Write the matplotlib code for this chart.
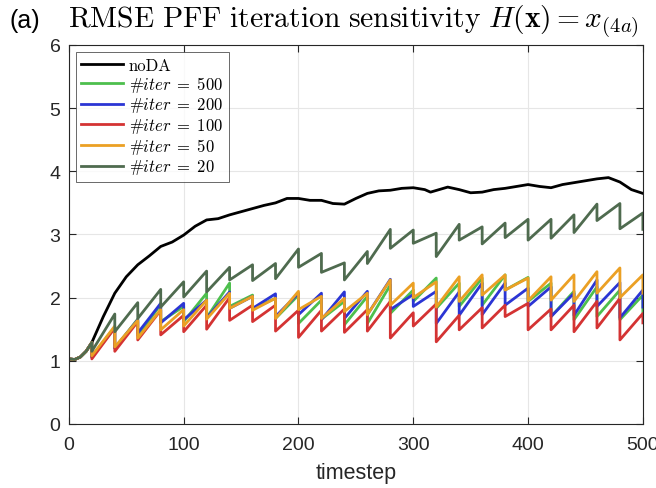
import numpy as np
import matplotlib
matplotlib.use("Agg")
import matplotlib.pyplot as plt

plt.rcParams['mathtext.fontset'] = 'cm'
plt.rcParams['font.family'] = ['Liberation Sans', 'DejaVu Sans']

# free run (noDA)
t_noda = [0, 5, 10, 15, 20, 30, 40, 50, 60, 70, 80, 90, 100, 110, 120, 130, 140, 150,
          160, 170, 180, 190, 200, 210, 220, 230, 240, 250, 260, 270, 280, 290, 300,
          310, 315, 330, 340, 350, 360, 370, 380, 390, 400, 410, 420, 430, 440, 450,
          460, 470, 480, 490, 500]
rmse_noda = [1.03, 1.02, 1.06, 1.15, 1.29, 1.70, 2.07, 2.33, 2.52, 2.66, 2.81, 2.88, 2.99,
             3.13, 3.23, 3.25, 3.31, 3.36, 3.41, 3.46, 3.50, 3.57, 3.57, 3.54, 3.54, 3.49,
             3.48, 3.57, 3.65, 3.69, 3.70, 3.73, 3.74, 3.71, 3.67, 3.75, 3.71, 3.66, 3.67,
             3.71, 3.73, 3.76, 3.79, 3.76, 3.74, 3.79, 3.82, 3.85, 3.88, 3.90, 3.83, 3.71,
             3.65]

# shared spin-up before the first analysis
t_spin = [0, 5, 10, 15]
rmse_spin = [1.03, 1.02, 1.06, 1.15]

# analysis times, value just before (fc) and just after (an) each analysis
t_an = [20, 40, 60, 80, 100, 120, 140, 160, 180, 200, 220, 240, 260, 280, 300,
        320, 340, 360, 380, 400, 420, 440, 460, 480, 500]

fc_500 = [1.29, 1.53, 1.66, 1.89, 1.86, 2.07, 2.23, 2.04, 1.99, 2.04, 1.96, 1.94, 2.02,
          2.20, 2.12, 2.31, 2.23, 2.31, 2.36, 2.32, 2.23, 2.10, 2.17, 2.12, 2.04]
an_500 = [1.06, 1.20, 1.40, 1.62, 1.62, 1.68, 1.86, 1.82, 1.67, 1.59, 1.66, 1.57, 1.59,
          1.75, 1.94, 1.83, 1.86, 1.88, 2.12, 1.94, 1.70, 1.65, 1.70, 1.65, 1.78]

fc_200 = [1.29, 1.53, 1.65, 1.91, 1.91, 1.96, 2.09, 2.02, 2.06, 2.07, 2.07, 2.09, 2.10,
          2.29, 2.05, 2.10, 2.09, 2.23, 2.23, 2.15, 2.17, 2.07, 2.28, 2.24, 2.12]
an_200 = [1.06, 1.20, 1.44, 1.60, 1.65, 1.68, 1.83, 1.83, 1.70, 1.73, 1.65, 1.67, 1.73,
          1.81, 1.86, 1.59, 1.72, 1.73, 1.88, 1.86, 1.70, 1.72, 1.86, 1.68, 1.85]

fc_100 = [1.29, 1.52, 1.62, 1.80, 1.72, 1.88, 2.00, 1.88, 1.88, 1.80, 1.80, 1.82, 1.81,
          1.94, 1.76, 1.90, 1.72, 1.84, 1.88, 1.91, 1.82, 1.88, 1.94, 1.99, 1.75]
an_100 = [1.03, 1.15, 1.33, 1.41, 1.46, 1.50, 1.64, 1.62, 1.47, 1.37, 1.47, 1.45, 1.47,
          1.36, 1.55, 1.30, 1.49, 1.52, 1.70, 1.49, 1.49, 1.46, 1.52, 1.33, 1.60]

fc_50 = [1.29, 1.55, 1.64, 1.81, 1.81, 1.96, 2.07, 2.02, 1.99, 2.10, 2.02, 1.99, 2.07,
         2.28, 2.23, 2.25, 2.33, 2.36, 2.36, 2.31, 2.33, 2.36, 2.41, 2.47, 2.36]
an_50 = [1.08, 1.22, 1.36, 1.49, 1.55, 1.66, 1.83, 1.80, 1.67, 1.81, 1.67, 1.78, 1.73,
         1.88, 2.00, 1.85, 1.94, 2.04, 2.12, 1.95, 1.96, 1.94, 2.07, 2.00, 2.07]

fc_20 = [1.29, 1.74, 1.92, 2.13, 2.25, 2.42, 2.48, 2.52, 2.54, 2.77, 2.70, 2.55, 2.73,
         3.08, 3.07, 3.02, 3.16, 3.12, 3.18, 3.24, 3.24, 3.31, 3.48, 3.49, 3.34]
an_20 = [1.15, 1.46, 1.67, 1.85, 2.01, 2.09, 2.28, 2.27, 2.30, 2.48, 2.40, 2.28, 2.54,
         2.78, 2.86, 2.65, 2.91, 2.85, 2.95, 2.91, 2.94, 3.03, 3.22, 3.09, 3.08]


def sawtooth(fc, an):
    # spin-up, then forecast value and analysis value at each analysis time
    t = list(t_spin)
    y = list(rmse_spin)
    for ti, f, a in zip(t_an, fc, an):
        t += [ti, ti]
        y += [f, a]
    return t, y


fig = plt.figure(figsize=(6.56, 4.89), dpi=100)
ax = fig.add_axes([0.105, 0.131, 0.875, 0.775])

lw = 2.0
ax.plot(t_noda, rmse_noda, color='black', lw=lw, label='noDA')
series = [
    (fc_500, an_500, '#4dbf4d', r'#$iter\;=\;500$'),
    (fc_200, an_200, '#2b35d4', r'#$iter\;=\;200$'),
    (fc_100, an_100, '#d43333', r'#$iter\;=\;100$'),
    (fc_50, an_50, '#eba024', r'#$iter\;=\;50$'),
    (fc_20, an_20, '#4f6b4f', r'#$iter\;=\;20$'),
]
for fc, an, col, lab in series:
    t, y = sawtooth(fc, an)
    ax.plot(t, y, color=col, lw=lw, label=lab)

ax.set_xlim(0, 500)
ax.set_ylim(0, 6)
ax.set_xticks([0, 100, 200, 300, 400, 500])
ax.set_yticks([0, 1, 2, 3, 4, 5, 6])
ax.grid(True, color='#e6e6e6', lw=0.8)
ax.set_axisbelow(True)
ax.tick_params(direction='in', length=5, labelsize=14, colors='#262626',
               top=True, right=True, labeltop=False, labelright=False)
ax.tick_params(axis='x', pad=9)
ax.tick_params(axis='y', pad=6)
for s in ax.spines.values():
    s.set_color('#262626')
    s.set_linewidth(0.8)
ax.set_xlabel('timestep', fontsize=15.5, color='#262626', labelpad=6)

leg = ax.legend(loc='upper left', prop={'family': 'cmr10', 'size': 12},
                frameon=True, fancybox=False,
                handlelength=2.5, handletextpad=0.35, labelspacing=0.08,
                borderpad=0.35, borderaxespad=0.4)
leg.get_frame().set_edgecolor('#262626')
leg.get_frame().set_linewidth(0.6)

fig.text(0.014, 0.957, '(a)', fontsize=18, ha='left', va='center', color='black')
fig.text(0.104, 0.955,
         r'$\mathrm{RMSE\ PFF\ iteration\ sensitivity}\ H(\mathbf{x}) = x_{(4a)}$',
         fontsize=21.3, ha='left', va='center')

fig.savefig('out.png', dpi=100)
